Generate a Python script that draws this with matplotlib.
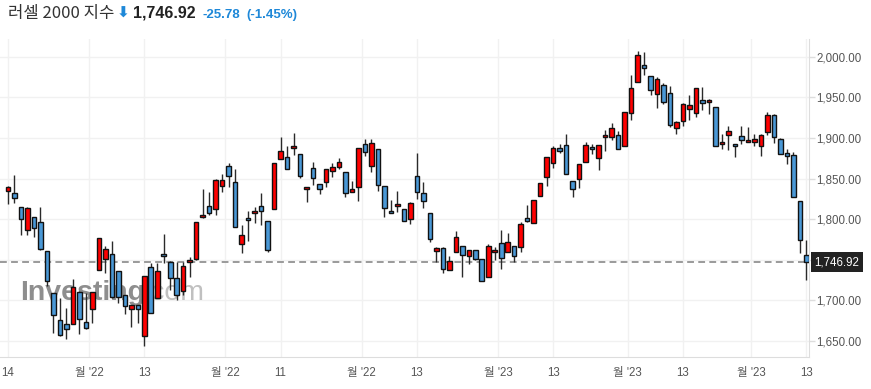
import matplotlib
matplotlib.use("Agg")
import matplotlib.pyplot as plt
import numpy as np
import pandas as pd

plt.rcParams['font.family'] = ['Liberation Sans', 'Noto Sans CJK KR', 'DejaVu Sans']

# daily OHLC, Russell 2000, 2022-09-14 .. 2023-03-13
opens = [1834.3, 1831.8, 1814.6, 1786.7, 1802.3, 1796.1, 1760.4, 1708.7, 1675.5, 1671.0,
         1670.5, 1710.8, 1673.8, 1689.0, 1737.4, 1750.6, 1756.7, 1735.8, 1707.0, 1689.0,
         1693.9, 1656.2, 1741.5, 1703.4, 1756.7, 1747.7, 1727.2, 1711.6, 1747.3, 1750.6,
         1802.3, 1816.3, 1812.2, 1840.5, 1865.5, 1845.8, 1769.1, 1801.5, 1807.2, 1815.9,
         1797.4, 1812.2, 1873.7, 1876.2, 1887.3, 1879.9, 1836.8, 1862.7, 1843.4, 1845.8,
         1859.0, 1864.3, 1857.8, 1833.1, 1840.1, 1892.2, 1865.1, 1886.1, 1840.5, 1809.7,
         1815.9, 1812.2, 1799.9, 1852.8, 1831.9, 1807.3, 1760.5, 1764.2, 1737.1, 1759.6,
         1767.4, 1754.3, 1761.7, 1750.6, 1728.4, 1759.2, 1770.3, 1759.2, 1766.5, 1765.3,
         1801.0, 1794.9, 1828.1, 1851.5, 1868.8, 1887.3, 1891.4, 1847.0, 1849.1, 1870.0,
         1888.5, 1874.9, 1901.2, 1901.2, 1903.3, 1890.1, 1930.3, 1968.5, 1989.9, 1975.9,
         1953.7, 1964.9, 1955.0, 1911.9, 1921.0, 1935.4, 1930.4, 1946.4, 1944.0, 1937.8,
         1892.2, 1903.3, 1892.2, 1902.1, 1894.7, 1895.5, 1889.8, 1907.4, 1928.0, 1899.2,
         1881.2, 1879.5, 1822.0, 1755.5]
highs = [1840.9, 1854.4, 1815.0, 1814.6, 1803.0, 1814.6, 1760.4, 1709.0, 1702.5, 1690.2,
         1726.8, 1711.0, 1708.7, 1710.0, 1776.4, 1767.0, 1773.1, 1735.8, 1707.0, 1693.9,
         1693.9, 1729.6, 1746.5, 1746.5, 1781.8, 1748.0, 1747.7, 1747.7, 1753.0, 1796.5,
         1836.8, 1833.5, 1850.0, 1855.3, 1869.6, 1861.4, 1792.9, 1810.1, 1815.5, 1831.9,
         1797.4, 1868.8, 1900.9, 1890.2, 1905.8, 1879.9, 1839.3, 1870.9, 1843.4, 1861.4,
         1868.8, 1875.0, 1857.8, 1847.1, 1887.3, 1898.4, 1898.4, 1886.1, 1840.5, 1823.3,
         1834.8, 1812.2, 1821.6, 1881.1, 1846.3, 1807.3, 1766.2, 1766.2, 1755.1, 1785.1,
         1767.4, 1761.7, 1761.7, 1750.6, 1769.5, 1765.8, 1786.7, 1782.6, 1766.5, 1796.9,
         1817.1, 1823.2, 1844.1, 1876.2, 1890.5, 1892.6, 1904.5, 1847.0, 1868.0, 1895.5,
         1893.0, 1891.4, 1909.8, 1918.9, 1908.6, 1931.6, 1977.5, 2007.1, 2006.3, 1975.9,
         1975.5, 1968.2, 1964.0, 1921.0, 1942.7, 1953.0, 1961.2, 1962.4, 1947.5, 1937.8,
         1905.0, 1915.2, 1892.2, 1914.8, 1913.6, 1904.6, 1905.0, 1931.7, 1929.0, 1900.5,
         1886.9, 1883.2, 1822.0, 1774.0]
lows = [1818.7, 1819.5, 1780.1, 1780.1, 1777.7, 1762.0, 1717.7, 1660.3, 1656.2, 1652.1,
        1670.5, 1658.6, 1665.0, 1672.6, 1737.0, 1733.3, 1703.0, 1696.4, 1682.8, 1666.8,
        1672.6, 1643.8, 1684.1, 1703.4, 1745.6, 1712.8, 1700.5, 1706.3, 1729.2, 1750.0,
        1801.0, 1805.6, 1805.6, 1834.0, 1840.1, 1790.0, 1758.8, 1773.2, 1794.9, 1792.9,
        1759.6, 1812.0, 1873.7, 1862.3, 1879.0, 1851.2, 1821.6, 1842.1, 1831.1, 1840.1,
        1852.4, 1862.3, 1827.8, 1833.1, 1822.0, 1877.9, 1857.8, 1835.2, 1803.2, 1807.2,
        1809.3, 1797.4, 1793.7, 1824.5, 1813.4, 1772.0, 1747.7, 1734.2, 1737.0, 1759.6,
        1728.4, 1744.5, 1750.0, 1723.5, 1728.4, 1749.8, 1738.2, 1759.0, 1746.9, 1759.2,
        1796.1, 1794.9, 1828.1, 1840.9, 1862.6, 1881.1, 1855.6, 1827.3, 1838.0, 1870.0,
        1879.9, 1860.2, 1883.9, 1897.1, 1886.0, 1890.1, 1922.1, 1968.5, 1977.5, 1952.9,
        1936.5, 1941.5, 1914.0, 1905.0, 1915.2, 1922.2, 1925.5, 1934.5, 1929.6, 1889.8,
        1886.1, 1884.9, 1876.2, 1892.6, 1894.7, 1890.2, 1878.3, 1903.7, 1893.5, 1879.9,
        1867.6, 1827.8, 1758.0, 1725.2]
closes = [1839.2, 1825.7, 1799.8, 1813.4, 1788.7, 1762.9, 1723.5, 1681.6, 1657.0, 1664.4,
          1716.1, 1676.7, 1665.6, 1710.0, 1776.4, 1762.9, 1703.8, 1704.2, 1693.1, 1693.9,
          1689.0, 1729.6, 1684.1, 1735.8, 1754.3, 1727.2, 1706.3, 1742.8, 1749.8, 1796.2,
          1805.2, 1807.2, 1848.3, 1848.3, 1852.8, 1790.0, 1780.2, 1798.6, 1810.1, 1809.7,
          1761.7, 1868.8, 1883.6, 1862.3, 1890.2, 1853.6, 1839.3, 1850.3, 1837.6, 1861.4,
          1863.9, 1870.1, 1831.9, 1836.8, 1887.3, 1882.4, 1893.5, 1841.7, 1813.4, 1807.2,
          1818.3, 1797.4, 1819.6, 1833.5, 1822.4, 1775.2, 1764.2, 1739.1, 1748.1, 1777.7,
          1755.5, 1761.7, 1750.6, 1723.5, 1766.6, 1761.7, 1751.8, 1772.3, 1754.3, 1793.7,
          1797.3, 1823.2, 1844.1, 1876.2, 1887.3, 1884.4, 1855.6, 1836.8, 1868.0, 1891.4,
          1886.0, 1891.4, 1903.7, 1911.9, 1886.0, 1931.6, 1961.1, 2001.8, 1985.8, 1958.7,
          1972.2, 1944.0, 1915.6, 1919.3, 1941.5, 1940.3, 1961.2, 1942.7, 1946.4, 1889.8,
          1895.1, 1908.3, 1889.8, 1897.2, 1897.2, 1898.8, 1903.3, 1928.0, 1900.9, 1879.9,
          1878.3, 1827.8, 1774.0, 1746.92]

holidays = ['2022-11-24', '2022-12-26', '2023-01-02', '2023-01-16', '2023-02-20']
dates = pd.bdate_range('2022-09-14', '2023-03-13', freq='C', holidays=holidays)

# x tick dates; month starts sit between two candles
tick_dates = ['2022-09-14', '2022-10-03', '2022-10-13', '2022-11-01', '2022-11-11',
              '2022-12-01', '2022-12-13', '2023-01-03', '2023-01-13', '2023-02-01',
              '2023-02-13', '2023-03-01', '2023-03-13']
tick_labels = ['14', "월 '22", '13', "월 '22", '11', "월 '22", '13',
               "월 '23", '13', "월 '23", '13', "월 '23", '13']

last_price = 1746.92
change = -25.78
change_pct = -1.45

up_color = '#ff0000'
down_color = '#4a98d6'

o = np.array(opens)
h = np.array(highs)
l = np.array(lows)
c = np.array(closes)
x = np.arange(len(c))

fig = plt.figure(figsize=(8.71, 3.89), dpi=100)
ax = fig.add_axes([0, 32 / 389, 809 / 871, 318 / 389])

# watermark behind the candles
ax.text(20 / 809, 0.18, 'Investing', transform=ax.transAxes, fontsize=20.5,
        fontweight='bold', color='#7a7a7a', alpha=0.85, zorder=1)
ax.text(142 / 809, 0.18, '.com', transform=ax.transAxes, fontsize=20.5,
        color='#b5b5b5', alpha=0.85, zorder=1)

colors = np.where(c >= o, up_color, down_color)
ax.vlines(x, l, h, color='#2a2a2a', linewidth=1, zorder=3)
body = np.maximum(np.abs(c - o), 0.6)
ax.bar(x, body, bottom=np.minimum(o, c), width=0.7, color=colors,
       edgecolor='#111111', linewidth=1, zorder=4)

ax.axhline(last_price, color='#9a9a9a', linewidth=1.4, dashes=(3.5, 2.2), zorder=2)

ax.set_xlim(-1.23, 123.42)
ax.set_ylim(1630.3, 2021.9)

pos = []
for d in tick_dates:
    i = dates.get_loc(pd.Timestamp(d))
    if i > 0 and dates[i].month != dates[i - 1].month:
        pos.append(i - 0.5)
    else:
        pos.append(i)
ax.set_xticks(pos)
ax.set_xticklabels(tick_labels)

# the 1,750 label sits under the price tag, so it is left blank
yt = np.arange(1650, 2001, 50)
ax.set_yticks(yt)
ax.set_yticklabels(['' if v == 1750 else '{:,.2f}'.format(v) for v in yt])
ax.yaxis.tick_right()

ax.grid(True, color='#f1f1f1', linewidth=1, zorder=0)
ax.set_axisbelow(True)
for s in ['top', 'left']:
    ax.spines[s].set_visible(False)
ax.spines['bottom'].set_color('#dddddd')
ax.spines['right'].set_color('#dddddd')
ax.tick_params(axis='x', length=0, pad=7, labelsize=8.3, labelcolor='#555555')
ax.tick_params(axis='y', length=4, width=1, color='#dddddd', pad=1.5,
               labelsize=8.3, labelcolor='#555555')

# current price tag
ax.annotate('{:,.2f}'.format(last_price), xy=(1.0, last_price),
            xycoords=ax.get_yaxis_transform(), xytext=(4, 0), textcoords='offset points',
            ha='left', va='center', fontsize=8.3, color='white', zorder=6,
            annotation_clip=False,
            bbox=dict(boxstyle='square,pad=0.35', facecolor='#222222', edgecolor='none'))

# header
ty = 1 - 18 / 389
fig.text(8 / 871, ty, '러셀 2000 지수', fontsize=12, color='#333333',
         family=['Noto Sans CJK KR', 'DejaVu Sans'], va='baseline')
fig.text(117 / 871, ty, '⬇', fontsize=11, fontweight='bold', color='#1e88d8',
         va='baseline', family=['DejaVu Sans'])
fig.text(133 / 871, ty, '{:,.2f}'.format(last_price), fontsize=11.5, fontweight='bold',
         color='#222222', va='baseline')
fig.text(202 / 871, ty, '{:.2f}'.format(change), fontsize=9.5, fontweight='bold',
         color='#1e88d8', va='baseline')
fig.text(246 / 871, ty, '({:.2f}%)'.format(change_pct), fontsize=9.5, fontweight='bold',
         color='#1e88d8', va='baseline')

fig.savefig('out.png', dpi=100)
